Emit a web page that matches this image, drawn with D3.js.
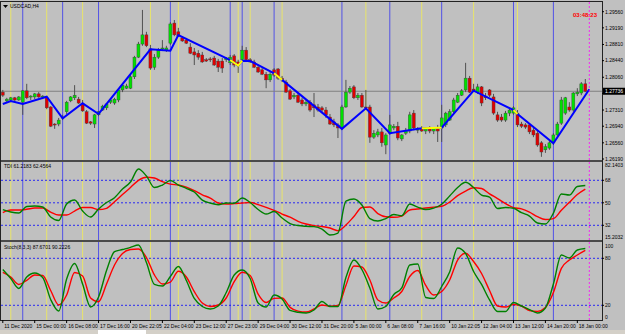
<!DOCTYPE html>
<html>
<head>
<meta charset="utf-8">
<script src="https://cdn.jsdelivr.net/npm/d3@7"></script>
<style>
body { margin: 0; background: #c0c0c0; }
svg { display: block; }
text { font-family: "Liberation Sans", Arial, sans-serif; font-size: 5px; fill: #000; }
</style>
</head>
<body>
<div class="chart"></div>
<script>
// USDCAD H4 bars, one per 4h candle
var openPrices = [1.2772,1.2752,1.2754,1.2759,1.2754,1.2749,1.2775,1.2761,1.2761,1.2768,1.2761,1.2759,1.2738,1.2699,1.2699,1.2713,1.2727,1.2752,1.2759,1.2756,
  1.2745,1.2727,1.2704,1.2699,1.2720,1.2731,1.2736,1.2749,1.2747,1.2754,1.2777,1.2781,1.2781,1.2807,1.2852,1.2882,1.2903,1.2871,1.2829,1.2852,
  1.2871,1.2868,1.2884,1.2930,1.2910,1.2896,1.2891,1.2875,1.2864,1.2861,1.2857,1.2846,1.2848,1.2850,1.2843,1.2843,1.2846,1.2839,1.2855,1.2841,
  1.2846,1.2868,1.2846,1.2841,1.2829,1.2823,1.2813,1.2800,1.2823,1.2825,1.2804,1.2795,1.2775,1.2761,1.2765,1.2754,1.2745,1.2749,1.2743,1.2738,
  1.2736,1.2731,1.2715,1.2704,1.2697,1.2690,1.2738,1.2772,1.2784,1.2759,1.2765,1.2738,1.2738,1.2669,1.2674,1.2681,1.2651,1.2678,1.2690,1.2694,
  1.2665,1.2678,1.2683,1.2724,1.2685,1.2688,1.2683,1.2688,1.2683,1.2688,1.2690,1.2697,1.2708,1.2727,1.2749,1.2765,1.2777,1.2804,1.2779,1.2772,
  1.2784,1.2763,1.2777,1.2761,1.2720,1.2715,1.2708,1.2724,1.2724,1.2724,1.2699,1.2697,1.2697,1.2685,1.2678,1.2656,1.2640,1.2644,1.2656,1.2674,
  1.2701,1.2724,1.2738,1.2731,1.2768,1.2770,1.2791];
var highPrices = [1.2777,1.2759,1.2761,1.2761,1.2763,1.2777,1.2791,1.2765,1.2770,1.2772,1.2765,1.2763,1.2740,1.2701,1.2713,1.2720,1.2752,1.2763,1.2788,1.2761,
  1.2754,1.2731,1.2706,1.2722,1.2729,1.2743,1.2747,1.2756,1.2759,1.2779,1.2791,1.2791,1.2811,1.2855,1.2887,1.2960,1.2910,1.2880,1.2859,1.2873,
  1.2891,1.2878,1.2932,1.2937,1.2919,1.2900,1.2896,1.2884,1.2873,1.2868,1.2864,1.2850,1.2852,1.2855,1.2848,1.2850,1.2852,1.2857,1.2859,1.2846,
  1.2878,1.2875,1.2850,1.2846,1.2834,1.2827,1.2818,1.2818,1.2827,1.2827,1.2809,1.2800,1.2779,1.2770,1.2770,1.2759,1.2754,1.2754,1.2770,1.2745,
  1.2740,1.2738,1.2722,1.2711,1.2701,1.2743,1.2800,1.2786,1.2788,1.2770,1.2770,1.2777,1.2743,1.2685,1.2688,1.2690,1.2678,1.2720,1.2699,1.2704,
  1.2676,1.2690,1.2727,1.2731,1.2692,1.2694,1.2692,1.2694,1.2692,1.2697,1.2743,1.2727,1.2733,1.2759,1.2770,1.2779,1.2839,1.2809,1.2791,1.2791,
  1.2786,1.2770,1.2779,1.2768,1.2727,1.2722,1.2729,1.2736,1.2740,1.2731,1.2704,1.2701,1.2701,1.2690,1.2683,1.2660,1.2653,1.2660,1.2678,1.2704,
  1.2761,1.2761,1.2749,1.2772,1.2781,1.2795,1.2802];
var lowPrices = [1.2761,1.2747,1.2749,1.2749,1.2752,1.2720,1.2756,1.2754,1.2756,1.2759,1.2756,1.2733,1.2692,1.2688,1.2694,1.2708,1.2722,1.2749,1.2754,1.2745,
  1.2727,1.2699,1.2697,1.2690,1.2717,1.2729,1.2731,1.2745,1.2743,1.2749,1.2772,1.2779,1.2779,1.2802,1.2850,1.2878,1.2875,1.2823,1.2823,1.2848,
  1.2866,1.2864,1.2880,1.2900,1.2898,1.2887,1.2882,1.2859,1.2834,1.2846,1.2839,1.2841,1.2841,1.2832,1.2818,1.2816,1.2841,1.2834,1.2829,1.2816,
  1.2841,1.2843,1.2839,1.2827,1.2816,1.2811,1.2781,1.2795,1.2807,1.2800,1.2795,1.2770,1.2754,1.2756,1.2747,1.2740,1.2740,1.2727,1.2715,1.2727,
  1.2724,1.2713,1.2697,1.2692,1.2667,1.2685,1.2736,1.2768,1.2756,1.2754,1.2736,1.2733,1.2656,1.2665,1.2669,1.2647,1.2630,1.2674,1.2685,1.2662,
  1.2660,1.2674,1.2678,1.2685,1.2678,1.2681,1.2676,1.2678,1.2676,1.2658,1.2658,1.2692,1.2706,1.2724,1.2747,1.2763,1.2772,1.2770,1.2772,1.2768,
  1.2740,1.2754,1.2761,1.2720,1.2704,1.2704,1.2704,1.2717,1.2720,1.2692,1.2690,1.2688,1.2676,1.2669,1.2647,1.2624,1.2633,1.2640,1.2651,1.2669,
  1.2697,1.2720,1.2727,1.2727,1.2763,1.2765,1.2772];
var closePrices = [1.2765,1.2756,1.2759,1.2754,1.2761,1.2775,1.2759,1.2763,1.2768,1.2761,1.2763,1.2736,1.2694,1.2697,1.2708,1.2715,1.2749,1.2761,1.2765,1.2747,
  1.2729,1.2701,1.2701,1.2720,1.2727,1.2740,1.2745,1.2754,1.2756,1.2777,1.2788,1.2786,1.2807,1.2852,1.2882,1.2903,1.2878,1.2827,1.2852,1.2868,
  1.2873,1.2873,1.2928,1.2903,1.2900,1.2889,1.2884,1.2861,1.2857,1.2852,1.2841,1.2843,1.2846,1.2834,1.2829,1.2827,1.2850,1.2852,1.2834,1.2834,
  1.2868,1.2846,1.2841,1.2829,1.2818,1.2813,1.2800,1.2813,1.2811,1.2804,1.2800,1.2772,1.2756,1.2765,1.2749,1.2745,1.2749,1.2731,1.2736,1.2731,
  1.2731,1.2720,1.2699,1.2697,1.2690,1.2738,1.2772,1.2781,1.2759,1.2765,1.2738,1.2736,1.2669,1.2678,1.2681,1.2656,1.2674,1.2697,1.2694,1.2667,
  1.2674,1.2685,1.2720,1.2690,1.2688,1.2683,1.2688,1.2683,1.2688,1.2683,1.2713,1.2724,1.2727,1.2754,1.2765,1.2775,1.2804,1.2772,1.2775,1.2784,
  1.2747,1.2759,1.2765,1.2724,1.2708,1.2708,1.2724,1.2731,1.2736,1.2697,1.2694,1.2692,1.2681,1.2674,1.2651,1.2635,1.2647,1.2656,1.2674,1.2699,
  1.2754,1.2759,1.2731,1.2770,1.2772,1.2791,1.2774];

// zigzag turning points: bar index and price
var zigzagBars = [0,2,5,11,15,20,24,37,42,44,57,59,60,62,68,70,85,91,97,105,110,118,128,129,138,147];
var zigzagPrices = [1.27448,1.27517,1.27448,1.27615,1.27121,1.27464,1.27220,1.28700,1.28668,1.29027,1.28455,1.28325,1.28439,1.28432,
  1.28151,1.28000,1.26880,1.27350,1.26778,1.26892,1.26906,1.27753,1.27311,1.27220,1.26549,1.27785];
// parts of the zigzag drawn in yellow (from bar, to bar)
var yellowLegs = [[57,60],[68,70],[105,110],[128,129]];

var yellowLineBars = [2,11,20,37,44,59,62,70,91,105,118,129];
var blueLineBars = [5,15,24,42,57,60,68,85,97,110,128,138];

// TDI and Stochastic, read every second bar
var tdiRsi = [44.6,42.6,41.8,47.0,47.4,46.6,38.6,35.8,49.0,52.2,43.4,38.6,45.0,50.2,54.1,61.0,66.6,77.0,71.4,62.2,
  64.2,67.8,64.2,61.6,58.6,52.2,49.8,48.5,49.8,49.6,53.8,50.2,44.6,41.0,43.0,37.8,33.4,31.8,31.2,30.9,
  29.0,24.2,25.8,51.4,53.0,48.2,37.4,35.4,37.4,40.6,39.7,49.0,46.6,44.6,45.8,48.8,55.4,62.2,66.4,62.2,
  56.2,54.6,45.4,46.2,45.6,42.1,39.4,33.8,33.0,41.8,57.0,56.2,63.0,63.8];
var tdiSignal = [42.2,44.2,44.2,44.8,45.8,45.8,42.6,40.2,40.2,43.4,46.2,46.2,44.6,45.6,50.9,56.6,62.2,68.0,70.4,69.8,
  66.9,64.9,64.2,62.5,59.8,56.4,53.8,49.8,49.0,49.3,49.8,50.2,48.5,46.4,44.0,41.0,38.5,35.2,33.0,31.7,
  31.0,29.8,27.7,32.2,39.0,46.2,46.6,41.4,38.8,38.4,39.4,44.2,45.0,45.8,46.5,47.2,50.6,55.7,59.4,62.1,
  61.4,57.2,53.4,49.4,46.2,45.2,42.6,38.9,36.6,37.3,44.0,50.4,56.6,60.9];
var stochMain = [65.7,54.2,41.4,56.1,61.2,55.5,27.4,12.7,53.6,73.4,47.2,17.8,30.6,64.4,88.4,91.2,94.0,97.0,74.6,46.6,
  44.6,56.8,69.5,51.7,28.7,18.5,15.3,19.1,36.3,58.7,65.1,54.2,22.9,17.8,33.1,28.0,13.4,11.2,10.2,14.0,
  24.9,18.5,18.5,55.5,77.8,65.7,42.1,15.3,18.5,33.8,42.1,71.4,72.7,30.0,28.7,44.0,62.5,93.1,86.1,63.1,
  46.6,26.8,12.1,12.1,23.6,19.1,14.6,10.2,16.6,47.2,84.2,80.4,90.6,92.5];
var stochSignal = [61.9,56.1,46.6,51.9,58.7,58.0,38.9,20.4,33.1,61.9,57.4,29.3,24.6,47.2,71.4,86.1,91.2,91.9,81.0,58.7,
  47.2,49.7,63.4,56.1,37.4,22.9,18.5,20.4,29.3,50.1,62.1,58.0,34.4,23.6,28.9,29.3,17.4,12.5,11.4,15.3,
  20.4,18.7,19.7,45.3,70.2,68.9,52.3,26.8,22.9,29.3,37.6,56.8,64.4,45.3,33.1,37.6,52.3,77.8,86.4,75.9,
  60.6,38.9,19.1,17.8,21.0,19.1,13.4,12.3,17.2,36.3,67.2,77.8,84.2,90.0];

var timeLabels = ["11 Dec 2020","15 Dec 00:00","16 Dec 08:00","17 Dec 16:00","20 Dec 22:05","22 Dec 04:00","23 Dec 12:00",
  "27 Dec 23:00","29 Dec 04:00","30 Dec 12:00","31 Dec 20:00","5 Jan 00:00","6 Jan 08:00","7 Jan 16:00","10 Jan 22:05",
  "12 Jan 04:00","13 Jan 12:00","14 Jan 20:00","18 Jan 00:00"];
var priceTicks = [1.29560,1.29190,1.28810,1.28440,1.28060,1.27690,1.27310,1.26940,1.26560,1.26190];
var tdiLevels = [68,50,32];
var stochLevels = [80,20];

var width = 625, height = 334,
    plotLeft = 1, plotRight = 602,
    mainTop = 2, mainBottom = 160,
    tdiTop = 162, tdiBottom = 240,
    stochTop = 242, stochBottom = 320;

var svg = d3.select(".chart")
    .append("svg")
    .attr("width", width)
    .attr("height", height);

svg.append("rect").attr("width", width).attr("height", height).attr("fill", "#c0c0c0");

var x = d3.scaleLinear().domain([0, 147]).range([2.8, 589.3]);
var yPrice = d3.scaleLinear().domain([1.26190, 1.29560]).range([159, 11.7]);
var yTdi = d3.scaleLinear().domain([32, 68]).range([225.3, 180.3]);
var yStoch = d3.scaleLinear().domain([20, 80]).range([305.3, 258.3]);

function clip(id, top, bottom) {
    svg.append("clipPath").attr("id", id)
        .append("rect").attr("x", plotLeft).attr("y", top)
        .attr("width", plotRight - plotLeft).attr("height", bottom - top);
}
clip("cMain", mainTop, mainBottom);
clip("cTdi", tdiTop, tdiBottom);
clip("cStoch", stochTop, stochBottom);

// vertical marker lines through all windows
var vl = svg.append("g");
vl.selectAll(".yl").data(yellowLineBars).enter().append("line")
    .attr("x1", function(d) { return x(d); }).attr("x2", function(d) { return x(d); })
    .attr("y1", mainTop).attr("y2", stochBottom)
    .style("stroke", "#e8e46a").style("stroke-width", 1);
vl.selectAll(".bl").data(blueLineBars).enter().append("line")
    .attr("x1", function(d) { return x(d); }).attr("x2", function(d) { return x(d); })
    .attr("y1", mainTop).attr("y2", stochBottom)
    .style("stroke", "#5252e6").style("stroke-width", 1);

// dotted level lines in the indicator windows
svg.append("g").selectAll("line").data(tdiLevels).enter().append("line")
    .attr("x1", plotLeft).attr("x2", plotRight)
    .attr("y1", function(d) { return yTdi(d); }).attr("y2", function(d) { return yTdi(d); })
    .style("stroke", "#0000ff").style("stroke-dasharray", "2,2").style("stroke-width", 0.8);
svg.append("g").selectAll("line").data(stochLevels).enter().append("line")
    .attr("x1", plotLeft).attr("x2", plotRight)
    .attr("y1", function(d) { return yStoch(d); }).attr("y2", function(d) { return yStoch(d); })
    .style("stroke", "#0000ff").style("stroke-dasharray", "2,2").style("stroke-width", 0.8);

// bid line
var lastClose = closePrices[closePrices.length - 1];
svg.append("line")
    .attr("x1", plotLeft).attr("x2", plotRight)
    .attr("y1", yPrice(lastClose)).attr("y2", yPrice(lastClose))
    .style("stroke", "#808080").style("stroke-width", 1);

// candles
var bars = d3.range(openPrices.length);
var cg = svg.append("g").attr("clip-path", "url(#cMain)");
cg.selectAll(".wick").data(bars).enter().append("line")
    .attr("x1", function(i) { return x(i); }).attr("x2", function(i) { return x(i); })
    .attr("y1", function(i) { return yPrice(highPrices[i]); })
    .attr("y2", function(i) { return yPrice(lowPrices[i]); })
    .style("stroke", "#505050").style("stroke-width", 1);
cg.selectAll(".body").data(bars).enter().append("rect")
    .attr("x", function(i) { return x(i) - 1.5; })
    .attr("width", 3)
    .attr("y", function(i) { return yPrice(Math.max(openPrices[i], closePrices[i])); })
    .attr("height", function(i) {
        return Math.max(1, Math.abs(yPrice(openPrices[i]) - yPrice(closePrices[i])));
    })
    .style("fill", function(i) { return closePrices[i] >= openPrices[i] ? "#00e000" : "#e00000"; })
    .style("stroke", "#404040").style("stroke-width", 0.4);

// zigzag
var zz = zigzagBars.map(function(b, k) { return [x(b), yPrice(zigzagPrices[k])]; });
cg.append("path").attr("d", d3.line()(zz))
    .style("fill", "none").style("stroke", "#0000ff").style("stroke-width", 2);
yellowLegs.forEach(function(leg) {
    var pts = zz.filter(function(p, k) { return zigzagBars[k] >= leg[0] && zigzagBars[k] <= leg[1]; });
    cg.append("path").attr("d", d3.line()(pts))
        .style("fill", "none").style("stroke", "#ffff00").style("stroke-width", 2);
});

// indicator lines
function series(values, yScale, clipId, color) {
    var line = d3.line()
        .x(function(d, k) { return x(2 * k); })
        .y(function(d) { return yScale(d); })
        .curve(d3.curveMonotoneX);
    svg.append("path").attr("clip-path", "url(#" + clipId + ")")
        .attr("d", line(values))
        .style("fill", "none").style("stroke", color).style("stroke-width", 1.4);
}
series(tdiSignal, yTdi, "cTdi", "#ff0000");
series(tdiRsi, yTdi, "cTdi", "#008000");
series(stochSignal, yStoch, "cStoch", "#ff0000");
series(stochMain, yStoch, "cStoch", "#008000");

// current bar marker
svg.append("line")
    .attr("x1", x(147)).attr("x2", x(147)).attr("y1", mainTop).attr("y2", stochBottom)
    .style("stroke", "#ff00ff").style("stroke-dasharray", "2,2").style("stroke-width", 0.8);

// window separators and frame
[[160, 162], [240, 242]].forEach(function(s) {
    svg.append("rect").attr("x", plotLeft).attr("y", s[0])
        .attr("width", plotRight - plotLeft).attr("height", s[1] - s[0]).attr("fill", "#4a4a4a");
});
svg.append("rect").attr("x", plotLeft - 0.5).attr("y", mainTop - 0.5)
    .attr("width", plotRight - plotLeft + 1).attr("height", stochBottom - mainTop + 1)
    .style("fill", "none").style("stroke", "#222").style("stroke-width", 1);

// right price scale
var ax = svg.append("g");
var bidY = yPrice(lastClose);
priceTicks.forEach(function(p) {
    var yy = yPrice(p);
    ax.append("line").attr("x1", plotRight).attr("x2", plotRight + 2).attr("y1", yy).attr("y2", yy).style("stroke", "#000");
    if (Math.abs(yy - bidY) > 6) {
        ax.append("text").attr("x", plotRight + 3).attr("y", yy + 1.8).text(p.toFixed(5));
    }
});
ax.append("rect").attr("x", plotRight + 1).attr("y", bidY - 3.5).attr("width", 22).attr("height", 7).attr("fill", "#000");
ax.append("text").attr("x", plotRight + 3).attr("y", bidY + 1.8).style("fill", "#fff").text("1.27736");

ax.append("text").attr("x", plotRight + 3).attr("y", 166.5).text("82.1403");
tdiLevels.forEach(function(v) {
    ax.append("line").attr("x1", plotRight).attr("x2", plotRight + 2).attr("y1", yTdi(v)).attr("y2", yTdi(v)).style("stroke", "#000");
    ax.append("text").attr("x", plotRight + 3).attr("y", yTdi(v) + 1.8).text(v);
});
ax.append("text").attr("x", plotRight + 3).attr("y", 238.5).text("15.2032");
ax.append("text").attr("x", plotRight + 3).attr("y", 247.5).text("100");
stochLevels.forEach(function(v) {
    ax.append("line").attr("x1", plotRight).attr("x2", plotRight + 2).attr("y1", yStoch(v)).attr("y2", yStoch(v)).style("stroke", "#000");
    ax.append("text").attr("x", plotRight + 3).attr("y", yStoch(v) + 1.8).text(v);
});
ax.append("text").attr("x", plotRight + 3).attr("y", 319).text("0");

// time scale
var tg = svg.append("g");
timeLabels.forEach(function(lbl, k) {
    var xx = x(8 * k);
    tg.append("line").attr("x1", xx).attr("x2", xx).attr("y1", stochBottom).attr("y2", stochBottom + 3).style("stroke", "#000");
    tg.append("text").attr("x", xx + 1.5).attr("y", 327.5).text(lbl);
});

// window captions
svg.append("path").attr("d", "M3,5 L8,5 L5.5,8 Z").attr("fill", "#000");
svg.append("text").attr("x", 10).attr("y", 8).text("USDCAD,H4");
svg.append("text").attr("x", 4).attr("y", 168).text("TDI 61.2183 62.4564");
svg.append("text").attr("x", 4).attr("y", 248.5).text("Stoch(8,3,3) 87.6701 90.2226");
svg.append("text").attr("x", 597).attr("y", 17).attr("text-anchor", "end")
    .style("fill", "#ff0000").style("font-size", "6px").style("font-weight", "bold").text("03:48:23");

// terminal tabs strip
svg.append("rect").attr("x", 0).attr("y", 330).attr("width", width).attr("height", 4).attr("fill", "#d4d0c8");
svg.append("rect").attr("x", 98).attr("y", 330).attr("width", 48).attr("height", 4).attr("fill", "#ffffff");
</script>
</body>
</html>
